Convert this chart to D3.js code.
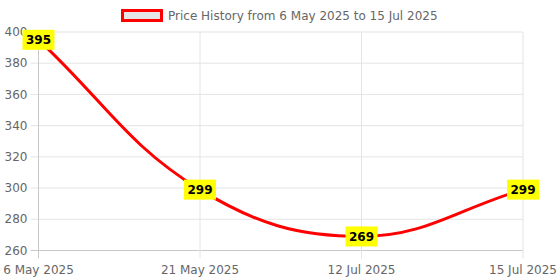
<!DOCTYPE html>
<html>
<head>
<meta charset="utf-8">
<script src="https://cdn.jsdelivr.net/npm/d3@7"></script>
<style>
  body { margin: 0; background: #fff; }
  svg { display: block; font-family: "DejaVu Sans", sans-serif; }
</style>
</head>
<body>
<div id="chart"></div>
<script>
var dates = ["6 May 2025", "21 May 2025", "12 Jul 2025", "15 Jul 2025"]; // category labels
var prices = [395, 299, 269, 299];
var yTicks = [260, 280, 300, 320, 340, 360, 380, 400];
var seriesLabel = "Price History from 6 May 2025 to 15 Jul 2025";

var width = 560;
var height = 280;
var margin = {top: 32, right: 37, bottom: 29.5, left: 38.5};
var tension = 0.4;

var svg = d3.select("#chart") //create svg
  .append("svg")
  .attr("width", width)
  .attr("height", height);

var x = d3.scalePoint()
  .domain(dates)
  .range([margin.left, width - margin.right]);

var y = d3.scaleLinear()
  .domain([260, 400])
  .range([height - margin.bottom, margin.top]);

// grid lines
svg.append("g")
  .selectAll("line")
  .data(yTicks)
  .enter()
  .append("line")
  .attr("x1", margin.left - 8)
  .attr("x2", width - margin.right)
  .attr("y1", function(d) { return y(d); })
  .attr("y2", function(d) { return y(d); })
  .attr("stroke", function(d) { return d == 260 ? "#c8c8c8" : "#e4e4e4"; })
  .attr("stroke-width", 1);

svg.append("g")
  .selectAll("line")
  .data(dates)
  .enter()
  .append("line")
  .attr("x1", function(d) { return x(d); })
  .attr("x2", function(d) { return x(d); })
  .attr("y1", margin.top)
  .attr("y2", height - margin.bottom + 8)
  .attr("stroke", function(d, i) { return i == 0 ? "#c8c8c8" : "#e4e4e4"; })
  .attr("stroke-width", 1);

// y axis labels
svg.append("g")
  .selectAll("text")
  .data(yTicks)
  .enter()
  .append("text")
  .attr("x", margin.left - 11)
  .attr("y", function(d) { return y(d); })
  .attr("dy", "0.35em")
  .attr("text-anchor", "end")
  .attr("fill", "#666")
  .style("font-size", "12px")
  .text(function(d) { return d; });

// x axis labels
svg.append("g")
  .selectAll("text")
  .data(dates)
  .enter()
  .append("text")
  .attr("x", function(d) { return x(d); })
  .attr("y", 270)
  .attr("dy", "0.35em")
  .attr("text-anchor", "middle")
  .attr("fill", "#666")
  .style("font-size", "12px")
  .text(function(d) { return d; });

// price line, bezier control points like a tension spline
var pts = prices.map(function(d, i) { return [x(dates[i]), y(d)]; });
var cps = pts.map(function(cur, i) {
  var prev = pts[Math.max(i - 1, 0)];
  var next = pts[Math.min(i + 1, pts.length - 1)];
  var d01 = Math.hypot(cur[0] - prev[0], cur[1] - prev[1]);
  var d12 = Math.hypot(next[0] - cur[0], next[1] - cur[1]);
  var s01 = d01 / (d01 + d12) || 0;
  var s12 = d12 / (d01 + d12) || 0;
  var fa = tension * s01, fb = tension * s12;
  return {
    prev: [cur[0] - fa * (next[0] - prev[0]), cur[1] - fa * (next[1] - prev[1])],
    next: [cur[0] + fb * (next[0] - prev[0]), cur[1] + fb * (next[1] - prev[1])]
  };
});

var path = d3.path();
path.moveTo(pts[0][0], pts[0][1]);
for (var i = 1; i < pts.length; i++) {
  path.bezierCurveTo(cps[i - 1].next[0], cps[i - 1].next[1],
    cps[i].prev[0], cps[i].prev[1], pts[i][0], pts[i][1]);
}

svg.append("path")
  .attr("d", path.toString())
  .attr("fill", "none")
  .attr("stroke", "#ff0000")
  .attr("stroke-width", 3);

// value labels
var labels = svg.append("g")
  .selectAll("g")
  .data(prices)
  .enter()
  .append("g")
  .attr("transform", function(d, i) {
    return "translate(" + x(dates[i]) + "," + y(d) + ")";
  });

labels.append("rect")
  .attr("x", -16)
  .attr("y", -10)
  .attr("width", 32)
  .attr("height", 20)
  .attr("fill", "#ffff00");

labels.append("text")
  .attr("dy", "0.36em")
  .attr("text-anchor", "middle")
  .attr("fill", "#000")
  .style("font-size", "12px")
  .style("font-weight", "bold")
  .text(function(d) { return d; });

// legend
var legend = svg.append("g");

legend.append("rect")
  .attr("x", 122.5)
  .attr("y", 10.5)
  .attr("width", 39)
  .attr("height", 10)
  .attr("fill", "#e6e6e6")
  .attr("stroke", "#ff0000")
  .attr("stroke-width", 3);

legend.append("text")
  .attr("x", 168)
  .attr("y", 16)
  .attr("dy", "0.35em")
  .attr("fill", "#666")
  .style("font-size", "12px")
  .text(seriesLabel);
</script>
</body>
</html>
